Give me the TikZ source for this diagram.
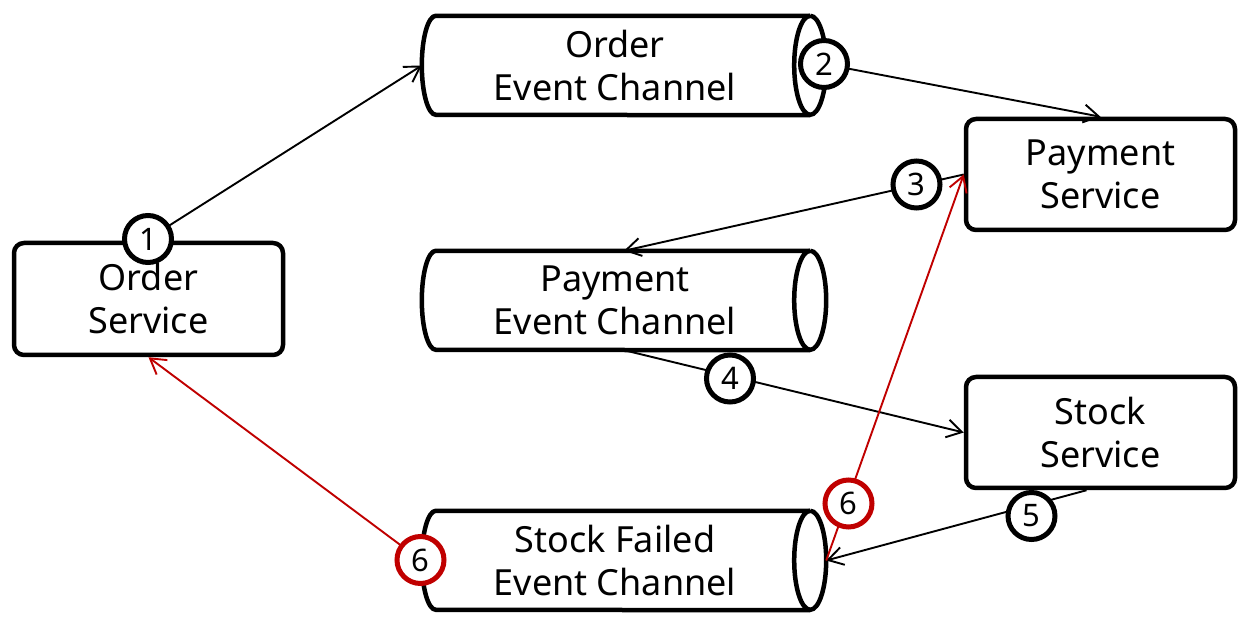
\documentclass[tikz,border=0pt]{standalone}
\usepackage{fontspec}
\setmainfont{Noto Sans}
\usetikzlibrary{arrows.meta}
\definecolor{myred}{RGB}{192,0,0}
\newcommand{\drawchan}[1]{%
  \fill[white] ([xshift=-16pt]#1.north east) -- ([xshift=14pt]#1.north west)
     arc[start angle=90,end angle=270,x radius=14,y radius=49.5]
     -- ([xshift=-16pt]#1.south east)
     arc[start angle=-90,end angle=90,x radius=16,y radius=49.5] -- cycle;
  \draw[line width=4.5pt] ([xshift=-16pt]#1.north east) -- ([xshift=14pt]#1.north west)
     arc[start angle=90,end angle=270,x radius=14,y radius=49.5]
     -- ([xshift=-16pt]#1.south east);
  \draw[line width=4.5pt] ([xshift=-16pt]#1.north east)
     arc[start angle=90,end angle=-270,x radius=16,y radius=49.5];
}
\begin{document}
\begin{tikzpicture}[x=1pt,y=1pt,
  txt/.style={align=center, font=\fontsize{36}{43}\selectfont, inner sep=0pt},
  box/.style={txt, draw, line width=4.5pt, rounded corners=10pt, minimum width=269pt, minimum height=111pt},
  chan/.style={minimum width=404pt, minimum height=99pt, inner sep=0pt},
  num/.style={circle, draw, line width=5pt, fill=white, minimum size=47pt, inner sep=0pt, font=\fontsize{31}{31}\selectfont},
  rnum/.style={num, draw=myred},
  conn/.style={line width=1.9pt, -{Straight Barb[length=15pt,width=18pt,line width=1.9pt]}},
  rconn/.style={conn, draw=myred},
]
\useasboundingbox[fill=white] (0,0) rectangle (1248,627);

% services
\node[box, minimum height=112pt] (os) at (148.5,328) {Order\\Service};
\node[box] (ps) at (1100.5,452.5) {Payment\\Service};
\node[box] (ss) at (1100.5,194.5) {Stock\\Service};

% channels
\node[chan] (oc) at (624,561.5) {};
\node[chan] (pc) at (624,326.5) {};
\node[chan] (sc) at (624,66.5) {};
\drawchan{oc}
\drawchan{pc}
\drawchan{sc}
\node[txt] (oct) at ([xshift=-9pt]oc.center) {Order\\Event Channel};
\node[txt] (pct) at ([xshift=-9pt]pc.center) {Payment\\Event Channel};
\node[txt] (sct) at ([xshift=-9pt]sc.center) {Stock Failed\\Event Channel};

% circle positions
\coordinate (p1) at (148,388);
\coordinate (p2) at (824,563);
\coordinate (p3) at (916.5,442.5);
\coordinate (p4) at (730,248.5);
\coordinate (p5) at (1031.5,111);
\coordinate (p6a) at (420.5,67);
\coordinate (p6b) at (848.5,123.5);
\coordinate (s5) at ([xshift=-14pt]ss.south);

% connectors
\draw[conn] (p1) -- (oc.west);
\draw[conn] (p2) -- (ps.north);
\draw[conn] (ps.west) -- (pc.north);
\draw[conn] (pc.south) -- (ss.west);
\draw[conn] (s5) -- (sc.east);
\draw[rconn] (p6a) -- (os.south);
\draw[rconn] (sc.east) -- (ps.west);

% numbers
\node[num] (n1) at (p1) {1};
\node[num] (n2) at (p2) {2};
\node[num] (n3) at (p3) {3};
\node[num] (n4) at (p4) {4};
\node[num] (n5) at (p5) {5};
\node[rnum] (n6a) at (p6a) {6};
\node[rnum] (n6b) at (p6b) {6};
\end{tikzpicture}
\end{document}
